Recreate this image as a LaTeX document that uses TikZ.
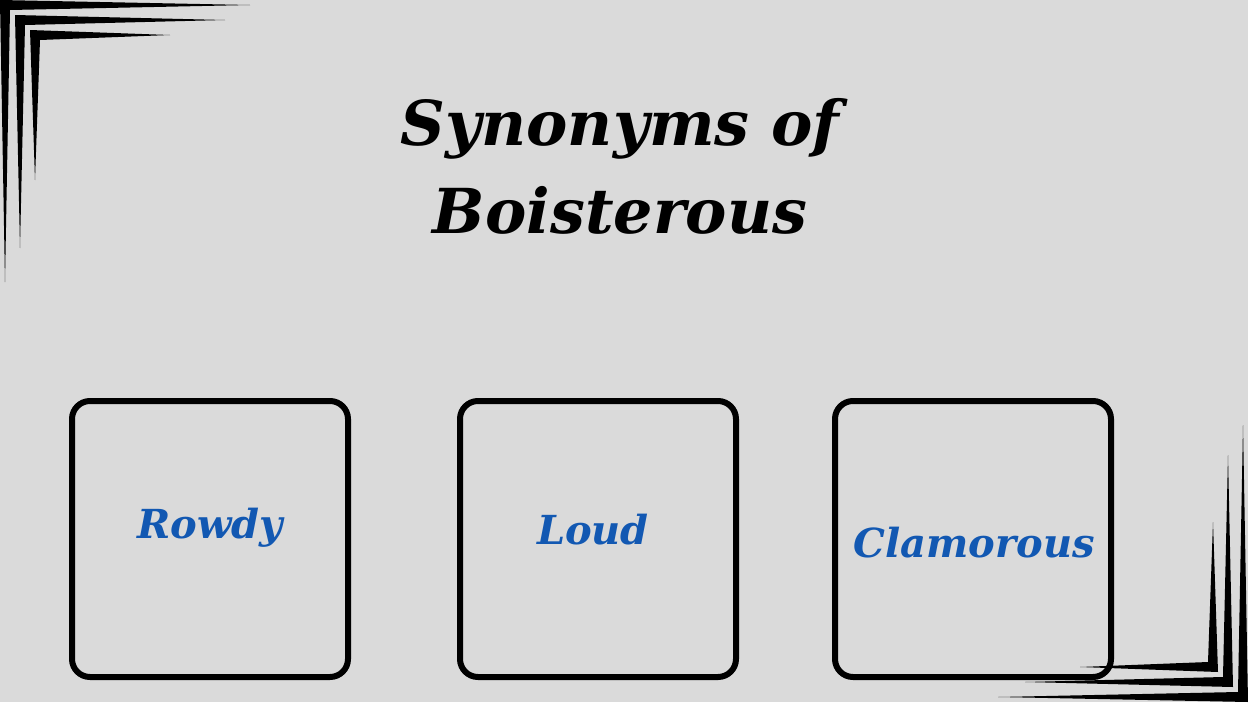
\documentclass[tikz,border=0pt]{standalone}
\usepackage{fontspec}
\setmainfont{DejaVu Serif}
\usetikzlibrary{positioning}
\definecolor{bgGrey}{RGB}{218,218,218}
\definecolor{wordBlue}{RGB}{18,88,178}
\tikzset{
  synBox/.style={draw=black, line width=3pt, rounded corners=9pt,
    minimum width=138pt, minimum height=138pt, inner sep=0pt},
  synWord/.style={font=\fontsize{20}{24}\selectfont\bfseries\itshape, text=wordBlue},
}
% tapered corner strokes: corner point, thickness, end of horizontal arm, end of vertical arm
\newcommand{\cornerTL}[4]{\fill (#1,#1) -- (#3,#1+#2/2) -- (#1+#2,#1+#2) -- (#1+#2/2,#4) -- cycle;}
\newcommand{\cornerBR}[4]{\fill (1248-#1,702-#1) -- (#3,702-#1-#2/2) -- (1248-#1-#2,702-#1-#2) -- (1248-#1-#2/2,#4) -- cycle;}
\begin{document}
\begin{tikzpicture}[x=0.5pt, y=-0.5pt]
  % background
  \fill[bgGrey] (0,0) rectangle (1248,702);
  \useasboundingbox (0,0) rectangle (1248,702);

  % corner decoration
  \cornerTL{0}{10}{250}{282}
  \cornerTL{15}{10}{225}{248}
  \cornerTL{30}{10}{170}{180}
  \cornerBR{0}{10}{998}{425}
  \cornerBR{15}{10}{1025}{455}
  \cornerBR{30}{10}{1080}{522}

  % title
  \node[font=\fontsize{31}{44}\selectfont\bfseries\itshape, align=center] (title)
    at (620,166) {Synonyms of\\Boisterous};

  % boxes
  \node[synBox] (box1) at (210,539) {};
  \node[synBox, right=53pt of box1] (box2) {};
  \node[synBox, right=46.5pt of box2] (box3) {};

  % words
  \node[synWord] (rowdy) at (210,528) {Rowdy};
  \node[synWord] (loud) at (593,530) {Loud};
  \node[synWord] (clamorous) at (974,543) {Clamorous};
\end{tikzpicture}
\end{document}
